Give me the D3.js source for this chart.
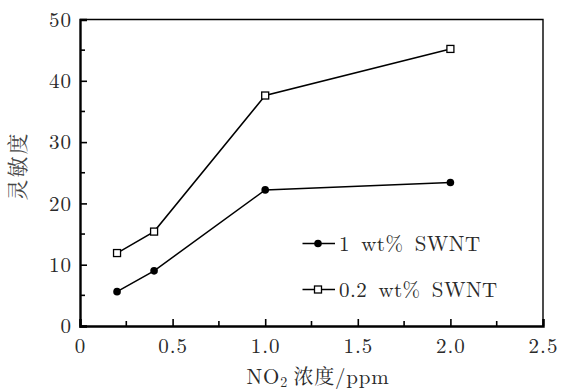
<!DOCTYPE html>
<html><head><meta charset="utf-8">
<script src="https://cdn.jsdelivr.net/npm/d3@7"></script>
<style>
body{margin:0;background:#fff;}
</style></head>
<body><svg id="c" width="561" height="390"></svg>
<script>
const xValues = [0.2, 0.4, 1.0, 2.0];
const series1Name = "1 wt% SWNT";
const series1 = [5.6, 9.0, 22.2, 23.4];
const series2Name = "0.2 wt% SWNT";
const series2 = [11.9, 15.4, 37.6, 45.2];
const xTicks = [0, 0.5, 1.0, 1.5, 2.0, 2.5];
const xTickLabels = ["0", "0.5", "1.0", "1.5", "2.0", "2.5"];
const yTicks = [0, 10, 20, 30, 40, 50];
const xMinor = [0.25, 0.75, 1.25, 1.75, 2.25];
const yMinor = [5, 15, 25, 35, 45];

const LM = "'Latin Modern Roman', 'Liberation Serif', serif";
const CJK = "'Noto Serif CJK SC', serif";
const TXT = "#2a2a2a";

const svg = d3.select("#c");
const L = 80, R = 543, T = 19.5, B = 326;
const x = d3.scaleLinear().domain([0, 2.5]).range([L, R]);
const y = d3.scaleLinear().domain([0, 50]).range([B, T]);

// frame top/right
svg.append("path").attr("d", `M${L},${T}H${R}V${B}`).attr("fill","none").attr("stroke","#000").attr("stroke-width",1.4);

// bottom axis
const xAxis = d3.axisBottom(x).tickValues(xTicks).tickSize(-7).tickPadding(12).tickFormat((d,i)=>xTickLabels[i]);
const gx = svg.append("g").attr("transform",`translate(0,${B})`).call(xAxis);
gx.select(".domain").attr("stroke-width",2.4);
gx.selectAll(".tick line").attr("stroke-width",1.6);
gx.selectAll("text").style("font-family",LM).style("font-size","21px").style("letter-spacing","1px").attr("fill",TXT).attr("dy","0.71em");
svg.append("g").selectAll("line").data(xMinor).join("line")
  .attr("x1",d=>x(d)).attr("x2",d=>x(d)).attr("y1",B).attr("y2",B-5).attr("stroke","#000").attr("stroke-width",1.6);

// left axis
const yAxis = d3.axisLeft(y).tickValues(yTicks).tickSize(-7).tickPadding(8);
const gy = svg.append("g").attr("transform",`translate(${L},0)`).call(yAxis);
gy.select(".domain").attr("stroke-width",2.4);
gy.selectAll(".tick line").attr("stroke-width",1.6);
gy.selectAll("text").style("font-family",LM).style("font-size","21px").style("letter-spacing","1px").attr("fill",TXT);
svg.append("g").selectAll("line").data(yMinor).join("line")
  .attr("x1",L).attr("x2",L+5).attr("y1",d=>y(d)).attr("y2",d=>y(d)).attr("stroke","#000").attr("stroke-width",1.6);

const line = d3.line().x((d,i)=>x(xValues[i])).y(d=>y(d));
svg.append("path").datum(series1).attr("d",line).attr("fill","none").attr("stroke","#000").attr("stroke-width",1.5);
svg.append("path").datum(series2).attr("d",line).attr("fill","none").attr("stroke","#000").attr("stroke-width",1.5);

svg.append("g").selectAll("circle").data(series1).join("circle")
  .attr("cx",(d,i)=>x(xValues[i])).attr("cy",d=>y(d)).attr("r",3.8).attr("fill","#000");
svg.append("g").selectAll("rect").data(series2).join("rect")
  .attr("x",(d,i)=>x(xValues[i])-3.5).attr("y",d=>y(d)-3.5).attr("width",7).attr("height",7)
  .attr("fill","#fff").attr("stroke","#000").attr("stroke-width",1.3);

// legend
const lg = [{name:series1Name, type:"c", yy:243.5},{name:series2Name, type:"s", yy:289.5}];
lg.forEach(e=>{
  svg.append("line").attr("x1",302.5).attr("x2",335).attr("y1",e.yy).attr("y2",e.yy).attr("stroke","#000").attr("stroke-width",1.5);
  if(e.type==="c") svg.append("circle").attr("cx",318).attr("cy",e.yy).attr("r",3.8).attr("fill","#000");
  else svg.append("rect").attr("x",314.5).attr("y",e.yy-3.5).attr("width",7).attr("height",7).attr("fill","#fff").attr("stroke","#000").attr("stroke-width",1.3);
  svg.append("text").attr("x",339).attr("y",e.yy+7.5).style("font-family",LM).style("font-size","21px")
    .style("letter-spacing","0.4px").style("word-spacing","4px").attr("fill",TXT).text(e.name);
});

// axis titles
const xt = svg.append("text").attr("x",318).attr("y",384).attr("text-anchor","middle")
  .style("font-family",LM).style("font-size","21px").style("letter-spacing","0.8px").attr("fill",TXT);
xt.append("tspan").text("NO");
xt.append("tspan").style("font-size","14px").attr("dy",3).text("2");
xt.append("tspan").attr("dy",-3).style("font-size","14px").text(" ");
xt.append("tspan").style("font-family",CJK).style("font-size","20px").text("浓度");
xt.append("tspan").text("/ppm");

svg.append("text").attr("transform","translate(25,166) rotate(-90)").attr("text-anchor","middle")
  .style("font-family",CJK).style("font-size","21px").style("letter-spacing","2px").attr("fill","#444").text("灵敏度");
</script></body></html>
